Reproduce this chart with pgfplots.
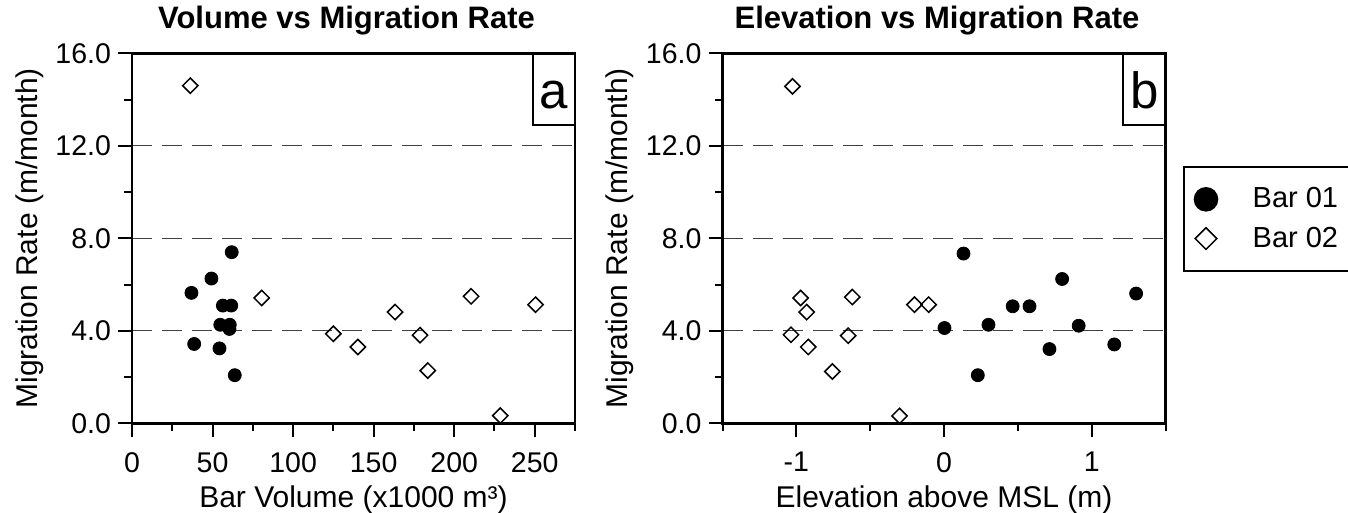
\documentclass[border=0pt]{standalone}
\usepackage{pgfplots}
\pgfplotsset{compat=1.18}
\usepackage{fontspec}
\setmainfont{Liberation Sans}

% 1 px of the reference = 0.5pt here
\pgfplotsset{
  mig/.style={
    scale only axis,
    width=221.5pt, height=185pt,
    ymin=0, ymax=16,
    ytick={0,4,8,12,16},
    minor ytick={2,6,10,14},
    tick pos=left,
    tick align=outside,
    major tick length=7pt,
    minor tick length=3.75pt,
    every tick/.style={black, line width=1pt},
    axis line style={line width=1.25pt},
    ymajorgrids=true,
    major grid style={black!75, line width=0.5pt, dash pattern=on 10pt off 5pt},
    /pgf/number format/assume math mode=true,
    yticklabel style={/pgf/number format/fixed, /pgf/number format/fixed zerofill, /pgf/number format/precision=1},
    xticklabel style={yshift=-4pt},
    ticklabel style={font=\fontsize{14.25}{17}\selectfont},
    every axis y label/.style={at={(axis description cs:-0.2144,0.5)}, rotate=90, anchor=base, font=\fontsize{15}{18}\selectfont},
    every axis x label/.style={at={(axis description cs:0.5,-0.227)}, anchor=base, font=\fontsize{15}{18}\selectfont},
    every axis title shift=0pt,
    title style={at={(axis description cs:0.5,1)}, anchor=base, yshift=12.25pt, xshift=-3.5pt, font=\bfseries\fontsize{15.5}{18}\selectfont},
    ylabel={Migration Rate (m/month)},
  },
  bar1/.style={only marks, mark=*, mark size=3.25pt, black, fill=black},
  bar2/.style={only marks, mark=square, mark size=2.7pt, black, line width=0.75pt, mark options={rotate=45, fill=white}},
  leg1/.style={legend image code/.code={\draw[##1, mark size=5.65pt] plot coordinates {(0pt,0pt)};}},
  leg2/.style={legend image code/.code={\draw[##1, mark size=3.82pt] plot coordinates {(0pt,0pt)};}},
}

\begin{document}
\begin{tikzpicture}
\path[use as bounding box] (-66pt,-44.85pt) rectangle (608pt,211.65pt);

\begin{axis}[mig,
  at={(0pt,0pt)}, anchor=south west,
  xmin=0, xmax=275,
  xtick={0,50,100,150,200,250},
  minor xtick={25,75,125,175,225,275},
  title={Volume vs Migration Rate},
  xlabel={Bar Volume (x1000 m³)},
]
\addplot[bar1] coordinates {(36.9,5.64) (38.6,3.43) (49.3,6.26) (56.4,5.09) (61.6,5.09) (54.8,4.26) (60.7,4.26) (60.5,4.08) (54.3,3.24) (63.8,2.08) (61.9,7.40)};
\addplot[bar2] coordinates {(36.2,14.60) (80.5,5.42) (125.0,3.87) (140.2,3.30) (163.3,4.81) (178.8,3.81) (183.6,2.28) (210.5,5.49) (228.6,0.33) (250.5,5.13)};
\draw[line width=1pt] (rel axis cs:0.9043,1) |- (rel axis cs:1,0.8062);
\node[inner sep=0pt, font=\fontsize{25.5}{30}\selectfont] at (rel axis cs:0.9515,0.8873) {a};
\end{axis}

\begin{axis}[mig,
  at={(295.25pt,0pt)}, anchor=south west,
  xmin=-1.5, xmax=1.5,
  xtick={-1,0,1},
  minor xtick={-1.5,-0.5,0.5,1.5},
  title={Elevation vs Migration Rate},
  xlabel={Elevation above MSL (m)},
  legend style={at={(axis description cs:1.0388,0.6962)}, anchor=north west,
    draw=black, line width=1pt, inner xsep=5.5pt, inner ysep=10.5pt,
    row sep=8pt, column sep=17.7pt, nodes={inner sep=0pt},
    font=\fontsize{14.5}{17}\selectfont},
  legend cell align=left,
]
\addplot[bar1, leg1]
  coordinates {(0.003,4.12) (0.132,7.34) (0.229,2.08) (0.301,4.26) (0.465,5.06) (0.579,5.06) (0.714,3.21) (0.800,6.24) (0.912,4.22) (1.153,3.41) (1.301,5.61)};
\addlegendentry{Bar 01\hspace*{24pt}}
\addplot[bar2, leg2]
  coordinates {(-1.026,14.57) (-1.036,3.83) (-0.971,5.42) (-0.930,4.81) (-0.919,3.30) (-0.756,2.24) (-0.649,3.79) (-0.621,5.46) (-0.301,0.32) (-0.200,5.13) (-0.104,5.13)};
\addlegendentry{Bar 02\hspace*{24pt}}
\draw[line width=1pt] (rel axis cs:0.9039,1) |- (rel axis cs:1,0.8062);
\node[inner sep=0pt, font=\fontsize{25.5}{30}\selectfont] at (rel axis cs:0.952,0.9008) {b};
\end{axis}
\end{tikzpicture}
\end{document}
